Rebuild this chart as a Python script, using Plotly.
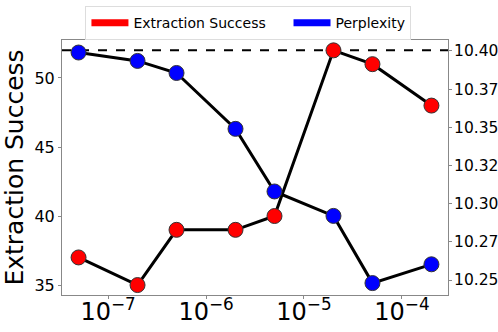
import plotly.graph_objects as go

# learning rates (log x axis)
lrs = [5e-8, 2e-7, 5e-7, 2e-6, 5e-6, 2e-5, 5e-5, 2e-4]
extraction = [37, 35, 39, 39, 40, 52, 51, 48]
perplexity = [10.399, 10.3935, 10.3856, 10.349, 10.308, 10.292, 10.248, 10.2603]
baseline = 52

x_ticks = [1e-7, 1e-6, 1e-5, 1e-4]
x_ticktext = ["10<sup>\u22127</sup>", "10<sup>\u22126</sup>", "10<sup>\u22125</sup>", "10<sup>\u22124</sup>"]
left_ticks = [35, 40, 45, 50]
right_ticks = [10.25, 10.275, 10.30, 10.325, 10.35, 10.375, 10.40]
right_ticktext = ["10.25", "10.27", "10.30", "10.32", "10.35", "10.37", "10.40"]

FONT = "DejaVu Sans"

fig = go.Figure()

fig.add_trace(go.Scatter(
    x=lrs, y=extraction, mode="lines+markers", showlegend=False,
    line=dict(color="black", width=3),
    marker=dict(size=15, color="red", line=dict(color="#333", width=1)),
))
fig.add_trace(go.Scatter(
    x=lrs, y=perplexity, mode="lines+markers", showlegend=False, yaxis="y2",
    line=dict(color="black", width=3),
    marker=dict(size=15, color="blue", line=dict(color="#333", width=1)),
))

# legend patches (nbsp pad to widen the gap between the two entries)
fig.add_trace(go.Scatter(x=[None], y=[None], mode="lines", name="Extraction Success\u00a0\u00a0\u00a0\u00a0",
                         line=dict(color="red", width=7)))
fig.add_trace(go.Scatter(x=[None], y=[None], mode="lines", name="Perplexity",
                         line=dict(color="blue", width=7)))

fig.add_shape(type="line", xref="paper", x0=0, x1=1, yref="y", y0=baseline, y1=baseline,
              line=dict(color="black", width=2, dash="dash"), layer="below")

fig.update_layout(
    width=498, height=332,
    margin=dict(l=62, r=50, t=40, b=37, autoexpand=False),
    plot_bgcolor="white", paper_bgcolor="white",
    font=dict(family=FONT, color="black"),
    xaxis=dict(
        type="log", range=[-7.47, -3.53], automargin=False,
        tickvals=x_ticks, ticktext=x_ticktext,
        tickfont=dict(size=24), showgrid=False, zeroline=False,
        showline=True, linecolor="#888", linewidth=1, mirror=True,
        ticks="outside", ticklen=3, tickcolor="#888", ticklabelstandoff=-8,
    ),
    yaxis=dict(
        range=[34.28, 52.75], tickvals=left_ticks, automargin=False,
        tickfont=dict(size=16), showgrid=False, zeroline=False,
        showline=True, linecolor="#888", linewidth=1,
        ticks="outside", ticklen=3, tickcolor="#888",
        title=dict(text="Extraction Success", font=dict(size=25), standoff=4),
    ),
    yaxis2=dict(
        overlaying="y", side="right", automargin=False,
        range=[10.2402, 10.4072], tickvals=right_ticks, ticktext=right_ticktext,
        tickfont=dict(size=15.5), showgrid=False, zeroline=False,
        showline=True, linecolor="#888", linewidth=1,
        ticks="outside", ticklen=3, tickcolor="#888", ticklabelstandoff=-1,
    ),
    legend=dict(
        orientation="h", x=0.483, xanchor="center", y=1.133, yanchor="top",
        font=dict(size=14), bordercolor="#ddd", borderwidth=1,
        bgcolor="white", itemwidth=37,
    ),
)

fig.write_html("out.html", config={"displayModeBar": False},
               post_script="document.body.style.margin='0';")
